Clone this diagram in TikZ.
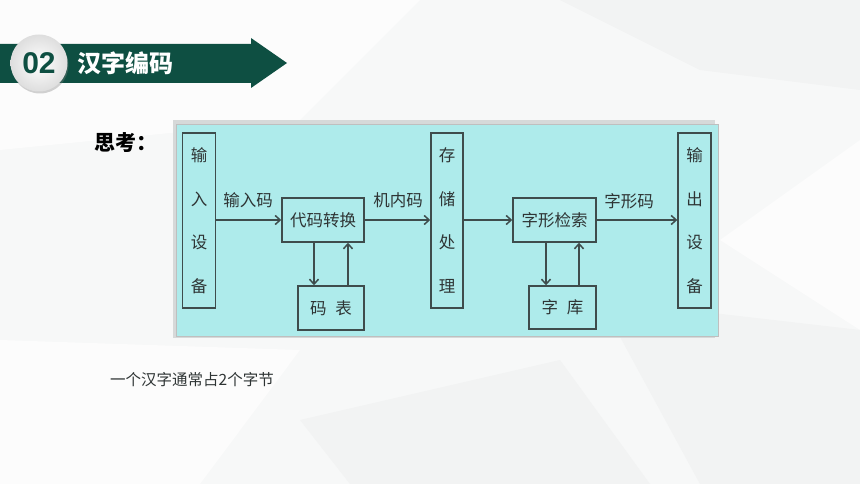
\documentclass[tikz,border=0pt]{standalone}
\usepackage{fontspec}
\newfontfamily\cjk{Noto Sans CJK SC}
\newfontfamily\numfont{Liberation Sans}
\usetikzlibrary{arrows.meta,shadows}
\definecolor{bgc}{HTML}{F7F8F8}
\definecolor{polyA}{HTML}{F2F3F3}
\definecolor{polyB}{HTML}{FCFCFC}
\definecolor{band}{HTML}{0E4F42}
\definecolor{panel}{HTML}{AEEBEB}
\definecolor{frame}{HTML}{D6D9D9}
\definecolor{edge}{HTML}{3E4C4C}
\definecolor{ink}{HTML}{2E3434}
\tikzset{
  box/.style={draw=edge, line width=1.4pt, fill=panel, inner sep=0pt, font=\cjk\fontsize{16.5}{18}\selectfont, text=ink},
  vbox/.style={box, minimum width=33pt, minimum height=175pt, align=center},
  hbox/.style={box, minimum width=83pt, minimum height=44pt},
  sbox/.style={box, minimum width=66pt, minimum height=44pt},
  arr/.style={draw=edge, line width=1.9pt, -{Straight Barb[length=5pt,width=9pt,line width=1.5pt]}},
  lbl/.style={font=\cjk\fontsize{16.5}{18}\selectfont, text=ink, inner sep=0pt}
}
\begin{document}
\begin{tikzpicture}[x=1pt,y=-1pt]
\useasboundingbox (0,0) rectangle (860,484);
% background
\fill[bgc] (0,0) rectangle (860,484);
\fill[polyB] (0,0) -- (420,0) -- (300,120) -- (0,150) -- cycle;
\fill[polyA] (560,0) -- (860,0) -- (860,90) -- (700,70) -- cycle;
\fill[polyB] (720,240) -- (860,140) -- (860,330) -- cycle;
\fill[polyA] (600,300) -- (860,330) -- (860,484) -- (700,484) -- cycle;
\fill[polyB] (0,340) -- (300,350) -- (200,484) -- (0,484) -- cycle;
\fill[polyA] (300,420) -- (560,360) -- (650,484) -- (350,484) -- cycle;
% header
\fill[band] (0,44) -- (251,44) -- (251,38) -- (287,63) -- (251,88) -- (251,83) -- (0,83) -- cycle;
\node[circle, minimum size=57pt, inner sep=0pt, drop shadow={shadow xshift=1pt, shadow yshift=-2pt, opacity=0.35},
      inner color=white, outer color=black!13] (circ) at (39,63) {};
\node[text=band, font=\numfont\bfseries\fontsize{30}{32}\selectfont] (num) at (circ) {02};
\node[text=white, font=\cjk\bfseries\fontsize{24}{26}\selectfont, anchor=west, inner sep=0pt] (title) at (77,63) {汉字编码};
% think label
\node[font=\cjk\bfseries\fontsize{21}{23}\selectfont, text=black, anchor=west, inner sep=0pt] (think) at (94,143) {思考：};
% panel
\fill[frame] (173,120) rectangle (715,338);
\node[draw=black!25, line width=0.6pt, fill=panel, minimum width=542pt, minimum height=212pt, inner sep=0pt, anchor=north west] (panelnode) at (176,124) {};
% boxes
\node[vbox] (in) at (199,220.5) {输\\[25.5pt]入\\[25.5pt]设\\[25.5pt]备};
\node[hbox, minimum width=82pt] (conv) at (323,220) {代码转换};
\node[sbox] (mb) at (331,308) {码\hspace{9pt}表};
\node[vbox, minimum width=32pt] (store) at (447,220.5) {存\\[25.5pt]储\\[25.5pt]处\\[25.5pt]理};
\node[hbox] (search) at (554.5,220) {字形检索};
\node[sbox, minimum width=67pt, minimum height=43pt] (zk) at (562.5,307.5) {字\hspace{9pt}库};
\node[vbox] (out) at (694.5,220.5) {输\\[25.5pt]出\\[25.5pt]设\\[25.5pt]备};
% arrows
\draw[arr] (in.east |- conv.west) -- (conv.west);
\draw[arr] (conv.east) -- (conv.east -| store.west);
\draw[arr] (store.east |- search.west) -- (search.west);
\draw[arr] (search.east) -- (search.east -| out.west);
\coordinate (d1) at ([xshift=-17pt]mb.north);
\coordinate (u1) at ([xshift=17pt]mb.north);
\draw[arr] (d1 |- conv.south) -- (d1);
\draw[arr] (u1) -- (u1 |- conv.south);
\coordinate (d2) at ([xshift=-16.5pt]zk.north);
\coordinate (u2) at ([xshift=16.5pt]zk.north);
\draw[arr] (d2 |- search.south) -- (d2);
\draw[arr] (u2) -- (u2 |- search.south);
% labels
\node[lbl] (l1) at (248,200) {输入码};
\node[lbl] (l2) at (398,200) {机内码};
\node[lbl] (l3) at (629,201) {字形码};
% note
\node[font=\cjk\fontsize{15.5}{17}\selectfont, text=ink, anchor=west, inner sep=0pt] (note) at (110,380) {一个汉字通常占2个字节};
\end{tikzpicture}
\end{document}
